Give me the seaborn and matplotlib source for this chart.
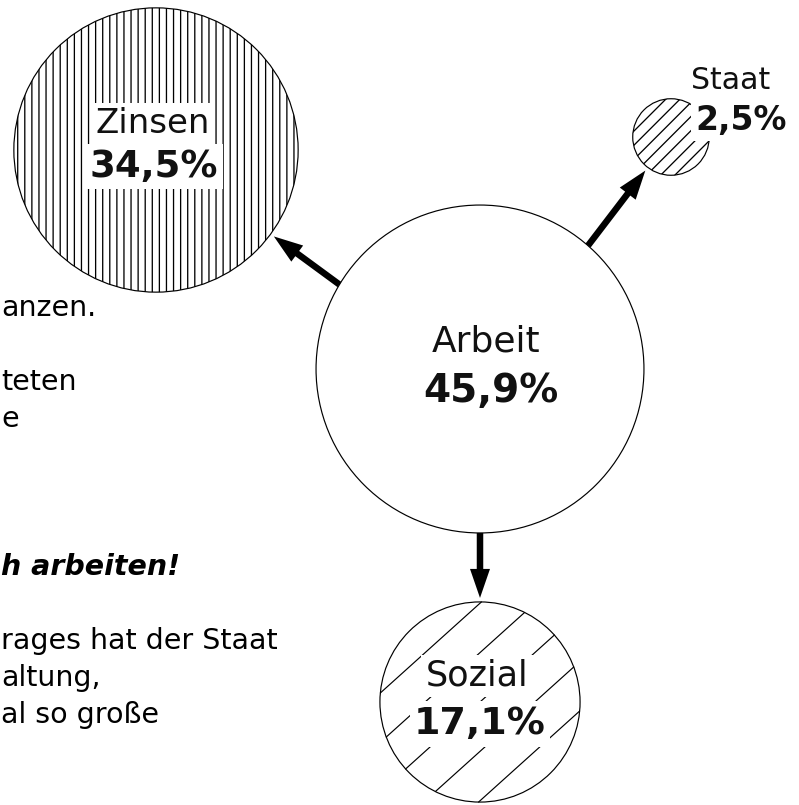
import numpy as np
import pandas as pd
import seaborn as sns
import matplotlib.pyplot as plt
from matplotlib.patches import Circle

# Anteile am Volkseinkommen (Prozent)
labels = ["Arbeit", "Zinsen", "Staat", "Sozial"]
values = [45.9, 34.5, 2.5, 17.1]
value_texts = ["45,9%", "34,5%", "2,5%", "17,1%"]

# Textfragmente links, der Absatz ist am Bildrand abgeschnitten
left_lines = ["anzen.", "", "teten", "e", "", "", "", "h arbeiten!", "",
              "rages hat der Staat", "altung,", "al so große"]

df = pd.DataFrame({"label": labels, "value": values, "text": value_texts})

# Layout in Pixeln (Bild ist 799x805)
DPI = 85
W, H = 799, 805
centers = {"Arbeit": (480, 369), "Zinsen": (156, 150), "Staat": (671, 137), "Sozial": (480, 702)}
hatches = {"Arbeit": None, "Zinsen": "||", "Staat": "//", "Sozial": None}
k = 24.2  # Radius ~ sqrt(Anteil), Fläche proportional zum Wert
df["r"] = k * np.sqrt(df["value"])

# Beschriftungen: (x, Baseline-Name, Pixelgröße Name, x Wert, Baseline Wert, Pixelgröße Wert, Kasten)
text_pos = {
    "Zinsen": (153, 133, 34, 154, 177, 37, True),
    "Arbeit": (486, 352, 36, 491, 402, 39, False),
    "Staat": (731, 89, 30, 741, 130, 33, True),
    "Sozial": (477, 686, 35, 480, 734, 38, True),
}
# Pfeilrichtung aus dem Arbeit-Kreis (Grad, y nach unten)
arrow_angle = {"Zinsen": -149, "Staat": -48.8, "Sozial": 90}


def pt(px):
    return px * 72 / DPI


sns.set_theme(style="white")
plt.rcParams['font.family'] = ['DejaVu Sans']
plt.rcParams['hatch.linewidth'] = 1.1

fig = plt.figure(figsize=(W / DPI, H / DPI), dpi=DPI)
ax = fig.add_axes([0, 0, 1, 1])
ax.set_xlim(0, W)
ax.set_ylim(H, 0)
ax.axis("off")

white_box = dict(boxstyle="square,pad=0.12", fc="white", ec="none")

for _, row in df.iterrows():
    cx, cy = centers[row["label"]]
    circ = Circle((cx, cy), row["r"], facecolor="white", edgecolor="black",
                  lw=1.0, hatch=hatches[row["label"]], zorder=1)
    ax.add_patch(circ)

# Sozial: weite Schraffur von Hand (Linien unter 42 Grad)
r_soz = df.loc[df.label == "Sozial", "r"].iloc[0]
cx, cy = centers["Sozial"]
th = np.deg2rad(42)
t = np.array([np.cos(th), -np.sin(th)])
n = np.array([np.sin(th), np.cos(th)])
for j in range(-2, 3):
    d = j * 36.7
    h = np.sqrt(r_soz ** 2 - d ** 2)
    p0 = np.array([cx, cy]) + d * n - h * t
    p1 = np.array([cx, cy]) + d * n + h * t
    ax.plot([p0[0], p1[0]], [p0[1], p1[1]], color="black", lw=1.0, zorder=2)

# Pfeile von Arbeit zu den anderen Kreisen
r0 = df.loc[df.label == "Arbeit", "r"].iloc[0]
c0 = np.array(centers["Arbeit"])
for name, ang in arrow_angle.items():
    a = np.deg2rad(ang)
    start = c0 + r0 * np.array([np.cos(a), np.sin(a)])
    c1 = np.array(centers[name])
    r1 = df.loc[df.label == name, "r"].iloc[0]
    u = (start - c1) / np.linalg.norm(start - c1)
    tip = c1 + (r1 + 4) * u
    ax.arrow(start[0], start[1], tip[0] - start[0], tip[1] - start[1],
             width=6.5, head_width=20, head_length=29, length_includes_head=True,
             fc="black", ec="black", lw=0, zorder=3)

for _, row in df.iterrows():
    x1, y1, s1, x2, y2, s2, box = text_pos[row["label"]]
    bb = white_box if box else None
    name_box = bb if row["label"] != "Staat" else None
    ax.text(x1, y1, row["label"], ha="center", va="baseline", fontsize=pt(s1),
            color="#111111", bbox=name_box, zorder=4)
    ax.text(x2, y2, row["text"], ha="center", va="baseline", fontsize=pt(s2),
            fontweight="bold", color="#111111", bbox=bb, zorder=4)

# Abgeschnittener Absatz links
for i, line in enumerate(left_lines):
    if not line:
        continue
    bold = line.endswith("!")
    ax.text(1, 316 + i * 37, line, ha="left", va="baseline",
            fontsize=pt(28.5), color="black",
            fontweight="bold" if bold else "normal",
            fontstyle="italic" if bold else "normal", zorder=4)

fig.savefig("out.png", dpi=DPI)
